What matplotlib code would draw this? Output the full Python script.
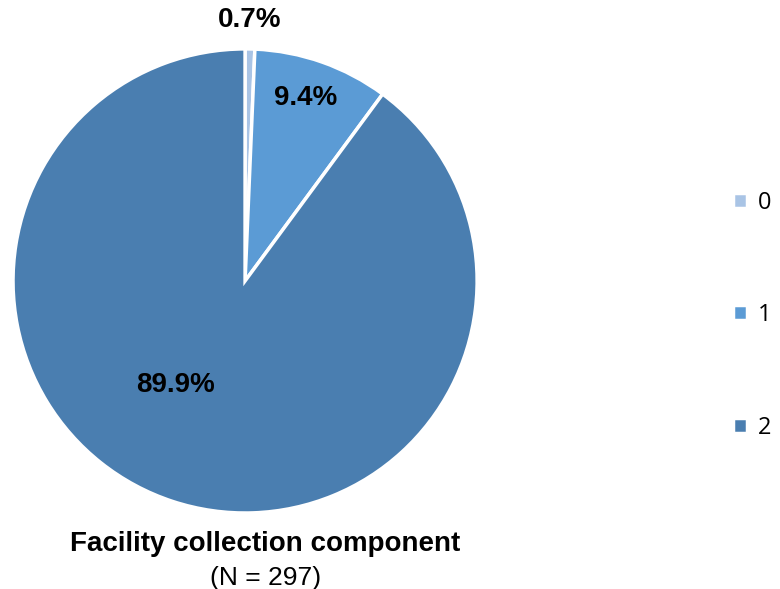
import matplotlib
matplotlib.use('Agg')
import matplotlib.pyplot as plt
import numpy as np

# facility collection component, counts per score (N = 297)
categories = ['0', '1', '2']
counts = [2, 28, 267]
pct_labels = ['0.7%', '9.4%', '89.9%']
colors = ['#a9c4e5', '#5b9bd5', '#4a7eb0']

fig = plt.figure(figsize=(7.8, 5.89), dpi=100)
ax = fig.add_axes([0.0167, 0.129, 0.595, 0.788])

wedges, _ = ax.pie(counts, colors=colors, startangle=90, counterclock=False,
                   wedgeprops=dict(edgecolor='white', linewidth=2.5))
ax.set_aspect('equal')
ax.set_xlim(-1, 1)
ax.set_ylim(-1, 1)

# label placement (distance from centre, angle) roughly like Excel's best fit
label_pos = [(1.125, 88.9), (0.83, 71.8), (0.54, -124.0)]
for txt, (r, a) in zip(pct_labels, label_pos):
    ax.text(r * np.cos(np.radians(a)), r * np.sin(np.radians(a)), txt,
            ha='center', va='center', fontsize=20, fontweight='bold',
            family='Liberation Sans', color='black')

# legend
fig.legend(wedges, categories, loc='center left', bbox_to_anchor=(0.94, 0.465),
           frameon=False, handlelength=0.6, handleheight=0.6, handletextpad=0.45,
           labelspacing=3.75, borderpad=0, borderaxespad=0,
           prop={'family': 'Open Sans', 'size': 17})

fig.text(0.34, 0.076, 'Facility collection component', ha='center', va='center',
         fontsize=20, fontweight='bold', family='Liberation Sans')
fig.text(0.34, 0.019, '(N = 297)', ha='center', va='center',
         fontsize=19, family='Liberation Sans')

fig.savefig('out.png', dpi=100)
